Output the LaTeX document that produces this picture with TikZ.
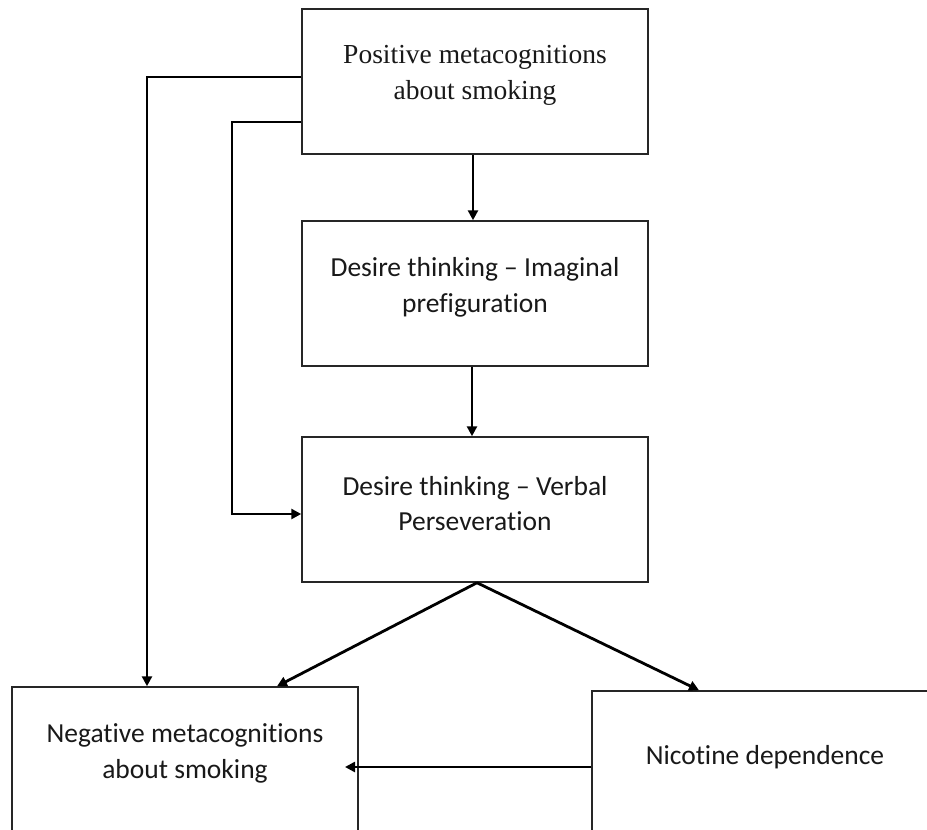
\documentclass[tikz,border=0pt]{standalone}
\usepackage{fontspec}
\setmainfont{Carlito}[Ligatures=NoCommon]
\newfontfamily\tnr{Liberation Serif}
\usetikzlibrary{arrows.meta}
\begin{document}
\begin{tikzpicture}[x=1pt,y=-1pt,
  box/.style={draw=black!85, line width=1.5pt, minimum width=346pt, minimum height=145pt, inner sep=0pt},
  txt/.style={align=center, font={\fontsize{27.5}{35.5}\selectfont}, text=black!90, yshift=6pt},
  serif/.style={font={\tnr\fontsize{27.5}{35.5}\selectfont}},
  arr/.style={line width=2.8pt, -{Triangle[length=10pt,width=10pt]}}]
\path[use as bounding box, fill=white] (0,0) rectangle (927,830);
\clip (0,0) rectangle (927,830);
% boxes
\node[box, label={[txt,serif]center:{Positive metacognitions\\about smoking}}] (n1) at (475,81.5) {};
\node[box, label={[txt]center:{Desire thinking -- Imaginal\\prefiguration}}] (n2) at (475,293.5) {};
\node[box, label={[txt]center:{Desire thinking -- Verbal\\Perseveration}}] (n3) at (475,509.5) {};
\node[box, label={[txt]center:{Negative metacognitions\\about smoking}}] (n4) at (185,759.5) {};
\node[box, label={[txt]center:{Nicotine dependence}}] (n5) at (765,763.5) {};
% bend points and free ends
\coordinate (b1) at (147,77);
\coordinate (b2) at (232,122);
\coordinate (b3) at (232,514);
\coordinate (t4) at (277,0);
\coordinate (t5) at (699,0);
\coordinate (c5) at (345,767);
% connectors
\draw[arr] ([xshift=-2pt]n1.south) -- ([xshift=-2pt]n2.north);
\draw[arr] ([xshift=-3pt]n2.south) -- ([xshift=-3pt]n3.north);
\draw[arr] (n1.west |- b1) -- (b1) -- (b1 |- n4.north);
\draw[arr] (n1.west |- b2) -- (b2) -- (b3) -- (n3.west |- b3);
\draw[arr] ([xshift=2pt]n3.south) -- (n4.north -| t4);
\draw[arr] ([xshift=2pt]n3.south) -- (n5.north -| t5);
\draw[arr] (n5.west |- c5) -- (c5);
\end{tikzpicture}
\end{document}
